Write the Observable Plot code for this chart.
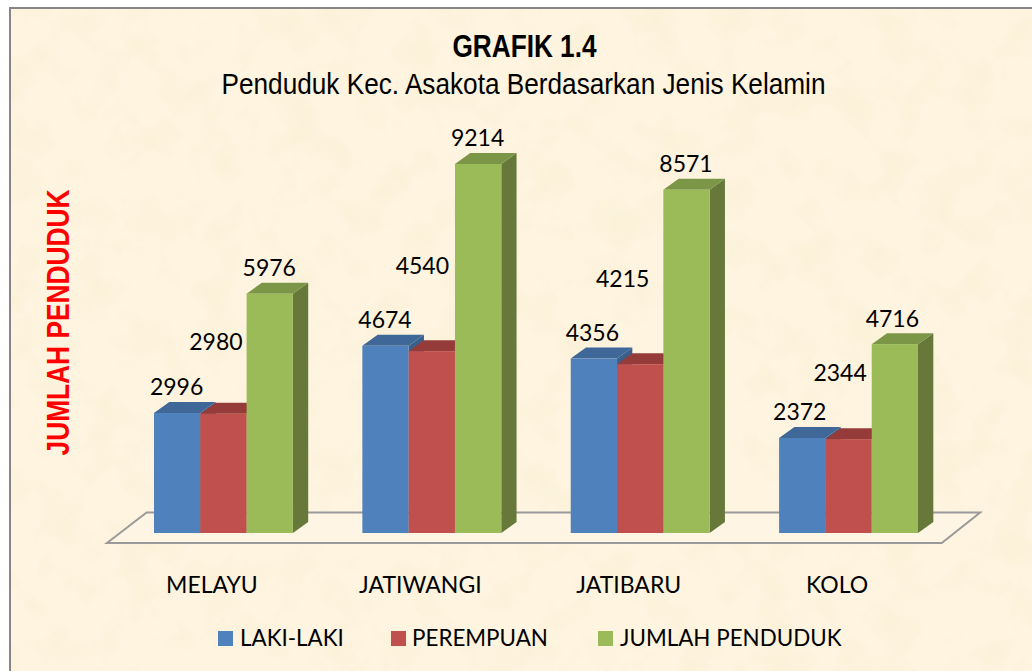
<!DOCTYPE html>
<html>
<head>
<meta charset="utf-8">
<script src="https://cdn.jsdelivr.net/npm/d3@7"></script>
<script src="https://cdn.jsdelivr.net/npm/@observablehq/plot@0.6"></script>
<style>
html,body{margin:0;padding:0;background:#fff;overflow:hidden}
#chart{position:relative;width:1032px;height:671px}
#legend{position:absolute;left:0;top:0;font:22.4px Lato,sans-serif;color:#000}
#legend span{position:absolute;top:624px;white-space:nowrap;line-height:27px}
#legend i{position:absolute;top:631px;width:15px;height:15px}
</style>
</head>
<body>
<div id="chart"></div>
<script>
// ---- data ----
const categories = ["MELAYU", "JATIWANGI", "JATIBARU", "KOLO"];
const seriesNames = ["LAKI-LAKI", "PEREMPUAN", "JUMLAH PENDUDUK"];
const lakiLaki = [2996, 4674, 4356, 2372];
const perempuan = [2980, 4540, 4215, 2344];
const jumlah = [5976, 9214, 8571, 4716];
const titleText = "GRAFIK 1.4";
const subtitleText = "Penduduk Kec. Asakota Berdasarkan Jenis Kelamin";
const yTitleText = "JUMLAH PENDUDUK";

// ---- style ----
const frontColors = ["#4F81BD", "#C0504D", "#9BBB59"];
const topColors = ["#3F6797", "#953C3A", "#7C9647"];
const sideColors = ["#3A5F8B", "#8A3A38", "#66793A"];
const depthX = 15.3, depthY = -11;
const labelFont = "Lato, sans-serif";
const labelSize = 23;
const labelLift = -25.5;
const redLabelShift = [[-8, -71.5], [-10, -85], [-18, -85], [-9, -66]];
const blueLabelShiftX = [-1, -1, -2, -3];
const greenLabelShiftX = [-1, -1, -1, -3];

const values = [lakiLaki, perempuan, jumlah];
const barW = (2 / 3) / 3;
const rows = categories.flatMap((c, i) => seriesNames.map((s, j) => ({
  category: c, series: s, i, j,
  value: values[j][i],
  x1: i + 1 / 6 + j * barW,
  x2: i + 1 / 6 + (j + 1) * barW
})));

function faces(j) {
  return function (index, scales, vals, dim, ctx, next) {
    const g = next(index, scales, vals, dim, ctx);
    const layer = d3.create("svg:g");
    for (const i of index) {
      const x1 = vals.x1[i], x2 = vals.x2[i];
      const top = Math.min(vals.y1[i], vals.y2[i]);
      const bot = Math.max(vals.y1[i], vals.y2[i]);
      layer.append("polygon")
        .attr("points", [[x2, top], [x2 + depthX, top + depthY], [x2 + depthX, bot + depthY], [x2, bot]].join(" "))
        .attr("fill", sideColors[j]);
      layer.append("polygon")
        .attr("points", [[x1, top], [x1 + depthX, top + depthY], [x2 + depthX, top + depthY], [x2, top]].join(" "))
        .attr("fill", topColors[j]);
    }
    const wrap = d3.create("svg:g");
    wrap.node().appendChild(layer.node());
    wrap.node().appendChild(g);
    return wrap.node();
  };
}

function floorMark(index, scales, vals, dim) {
  const y0 = scales.y(0), xa = scales.x(0), xb = scales.x(categories.length);
  const g = d3.create("svg:g");
  g.append("polygon")
    .attr("points", [
      [xa - 12.3, y0 + 10], [xa + 27.4, y0 - 20.5],
      [xb + 27.4, y0 - 20.5], [xb - 11, y0 + 10]
    ].join(" "))
    .attr("fill", "#FEF5E4").attr("stroke", "#9A9A9A").attr("stroke-width", 2);
  return g.node();
}

const fitted = (len) => function (index, scales, vals, dim, ctx, next) {
  const g = next(index, scales, vals, dim, ctx);
  d3.select(g).selectAll("text").attr("textLength", len).attr("lengthAdjust", "spacingAndGlyphs");
  return g;
};

const barMarks = seriesNames.map((s, j) => Plot.rect(rows.filter(d => d.j === j), {
  x1: "x1", x2: "x2", y1: () => 0, y2: "value", fill: "series",
  render: faces(j)
}));

const labelMarks = rows.map(d => {
  let dx = 0, dy = labelLift;
  if (d.j === 0) dx = blueLabelShiftX[d.i];
  if (d.j === 1) [dx, dy] = redLabelShift[d.i];
  if (d.j === 2) dx = greenLabelShiftX[d.i];
  return Plot.text([d], {
    x: v => (v.x1 + v.x2) / 2, y: "value", text: v => String(v.value),
    dx, dy, fontSize: labelSize, fontFamily: labelFont, fill: "#000"
  });
});

const plot = Plot.plot({
  width: 1032, height: 671,
  marginLeft: 0, marginRight: 0, marginTop: 0, marginBottom: 0,
  style: {background: "transparent"},
  x: {type: "linear", domain: [0, categories.length], range: [119.25, 952.75], axis: null},
  y: {domain: [0, 9214], range: [533, 164], axis: null},
  color: {domain: seriesNames, range: frontColors},
  marks: [
    floorMark,
    ...barMarks,
    ...labelMarks,
    Plot.text(categories, {
      x: (d, i) => i + 0.5, y: () => 0, text: d => d, dx: -12, dy: 52,
      fontSize: labelSize, fontFamily: labelFont, fill: "#000"
    }),
    Plot.text([titleText], {
      text: d => d, frameAnchor: "top-left", lineAnchor: "middle", dx: 524, dy: 47, textAnchor: "middle",
      fontSize: 31, fontWeight: "bold", fontFamily: "Liberation Sans", fill: "#000", render: fitted(144)
    }),
    Plot.text([subtitleText], {
      text: d => d, frameAnchor: "top-left", lineAnchor: "middle", dx: 523, dy: 84, textAnchor: "middle",
      fontSize: 30, fontFamily: "Liberation Sans", fill: "#000", render: fitted(604)
    }),
    Plot.text([yTitleText], {
      text: d => d, frameAnchor: "top-left", lineAnchor: "middle", dx: 59, dy: 322, rotate: -90, textAnchor: "middle",
      fontSize: 31, fontWeight: "bold", fontFamily: "Liberation Sans", fill: "#FF0000", render: fitted(266)
    })
  ]
});

// parchment background and frame, behind the marks
const bg = d3.create("svg:g");
const defs = bg.append("defs");
const filter = defs.append("filter").attr("id", "parchment")
  .attr("x", 0).attr("y", 0).attr("width", "100%").attr("height", "100%");
filter.append("feTurbulence").attr("type", "fractalNoise")
  .attr("baseFrequency", 0.025).attr("numOctaves", 4).attr("seed", 7);
filter.append("feColorMatrix").attr("type", "matrix")
  .attr("values", "0 0 0 0 0.94  0 0 0 0 0.86  0 0 0 0 0.62  1.0 0 0 0 -0.42");
bg.append("rect").attr("x", 0).attr("y", 0).attr("width", 1032).attr("height", 671).attr("fill", "#fff");
bg.append("rect").attr("x", 9).attr("y", 7).attr("width", 1100).attr("height", 800).attr("fill", "#868686");
bg.append("rect").attr("x", 11).attr("y", 9).attr("width", 1021).attr("height", 662).attr("fill", "#FEF4E0");
bg.append("rect").attr("x", 11).attr("y", 9).attr("width", 1021).attr("height", 662).attr("filter", "url(#parchment)");
plot.insertBefore(bg.node(), plot.firstChild);

document.getElementById("chart").appendChild(plot);

// legend
const legendItems = [[218, 240], [391, 412], [598, 620]];
const legend = d3.select("#chart").append("div").attr("id", "legend");
seriesNames.forEach((s, j) => {
  legend.append("i").style("left", legendItems[j][0] + "px").style("background", frontColors[j]);
  legend.append("span").style("left", legendItems[j][1] + "px").text(s);
});
</script>
</body>
</html>
